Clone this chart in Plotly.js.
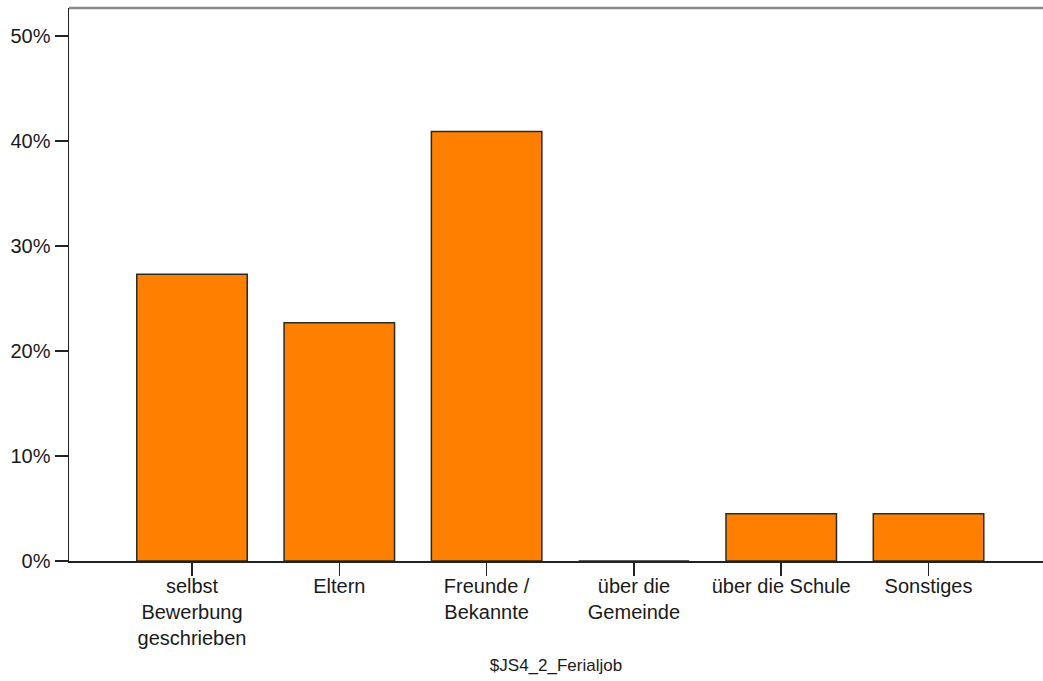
<!DOCTYPE html>
<html><head><meta charset="utf-8">
<script src="https://cdn.plot.ly/plotly-3.0.1.min.js"></script>
<style>html,body{margin:0;padding:0;background:#fff}#chart{width:1043px;height:681px}</style>
</head><body><div id="chart"></div>
<script>
const categories = ["selbst<br>Bewerbung<br>geschrieben", "Eltern", "Freunde /<br>Bekannte", "über die<br>Gemeinde", "über die Schule", "Sonstiges"];
const percents = [27.3, 22.7, 40.9, 0.0, 4.5, 4.5];
const yTickVals = [0, 10, 20, 30, 40, 50];
const yTickText = ["0%", "10%", "20%", "30%", "40%", "50%"];
const xTitle = "$JS4_2_Ferialjob";

const fam = "Liberation Sans, Arial, sans-serif";
const font = {family: fam, size: 20, color: "#1a1a1a"};
Plotly.newPlot("chart", [{
  type: "bar",
  x: [0,1,2,3,4,5],
  y: percents,
  width: 0.75,
  marker: {color: "#FF8000", line: {color: "#2a2a2a", width: 1.5}},
  hoverinfo: "none"
}], {
  width: 1043, height: 681,
  margin: {l: 69, r: 0, t: 8, b: 120},
  paper_bgcolor: "#fff", plot_bgcolor: "#fff",
  font: font,
  showlegend: false,
  xaxis: {
    range: [-0.835, 5.777],
    tickvals: [0,1,2,3,4,5], ticktext: categories,
    showline: true, linecolor: "#222", linewidth: 1.5,
    ticks: "outside", ticklen: 13, tickwidth: 1.5, tickcolor: "#222",
    ticklabelstandoff: -7,
    showgrid: false, zeroline: false,
    tickfont: font,
    title: {text: xTitle, font: {family: fam, size: 17, color: "#1a1a1a"}, standoff: 11}
  },
  yaxis: {
    range: [0, 52.67],
    tickvals: yTickVals, ticktext: yTickText,
    showline: true, linecolor: "#222", linewidth: 1.5,
    ticks: "outside", ticklen: 13, tickwidth: 1.5, tickcolor: "#222",
    showgrid: false, zeroline: false,
    tickfont: font
  },
  shapes: [{type: "line", xref: "paper", yref: "paper", x0: 0, x1: 1, y0: 1, y1: 1, line: {color: "#888", width: 2.5}}]
}, {staticPlot: true});
</script></body></html>
